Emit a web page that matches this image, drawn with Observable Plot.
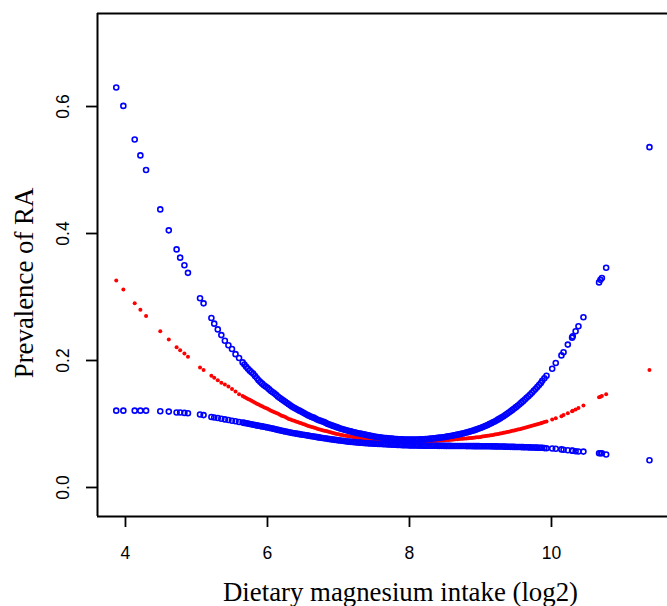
<!DOCTYPE html>
<html>
<head>
<meta charset="utf-8">
<script src="https://cdn.jsdelivr.net/npm/d3@7"></script>
<script src="https://cdn.jsdelivr.net/npm/@observablehq/plot@0.6"></script>
<style>
  html, body { margin: 0; padding: 0; background: #fff; overflow: hidden; }
</style>
</head>
<body>
<div id="chart"></div>
<script>
// Dietary magnesium intake (log2)
const xValues = [
  3.87, 3.97, 4.13, 4.21, 4.29, 4.49, 4.61, 4.72, 4.77, 4.83, 4.88, 5.05, 5.10,
  5.21, 5.25, 5.30, 5.35, 5.40, 5.45, 5.50, 5.55, 5.60, 5.65,
  5.70, 5.75, 5.80, 5.85, 5.90, 5.95, 6.00, 6.05, 6.10, 6.15,
  6.20, 6.25, 6.30, 6.35, 6.40, 6.45, 6.50, 6.55, 6.60, 6.65,
  6.70, 6.75, 6.80, 6.85, 6.90, 6.95, 7.00, 7.05, 7.10, 7.15,
  7.20, 7.25, 7.30, 7.35, 7.40, 7.45, 7.50, 7.55, 7.60, 7.65,
  7.70, 7.75, 7.80, 7.85, 7.90, 7.95, 8.00, 8.05, 8.10, 8.15,
  8.20, 8.25, 8.30, 8.35, 8.40, 8.45, 8.50, 8.55, 8.60, 8.65,
  8.70, 8.75, 8.80, 8.85, 8.90, 8.95, 9.00, 9.05, 9.10, 9.15,
  9.20, 9.25, 9.30, 9.35, 9.40, 9.45, 9.50, 9.55, 9.60, 9.65,
  9.70, 9.75, 9.80, 9.85,
  9.87, 9.90, 9.93, 10.01, 10.06, 10.14, 10.17, 10.23, 10.29, 10.30, 10.34, 10.38, 10.45,
  10.67, 10.69, 10.71, 10.77, 11.38
];
// Upper 95% CI
const upperCI = [
  0.630, 0.601, 0.548, 0.523, 0.500, 0.438, 0.405, 0.375, 0.362, 0.350, 0.338, 0.298, 0.290,
  0.267, 0.258, 0.249, 0.240, 0.231, 0.224, 0.218, 0.210, 0.204, 0.197,
  0.190, 0.184, 0.179, 0.172, 0.166, 0.161, 0.157, 0.152, 0.148, 0.143,
  0.139, 0.135, 0.131, 0.127, 0.124, 0.121, 0.118, 0.115, 0.112, 0.110,
  0.107, 0.105, 0.103, 0.100, 0.098, 0.096, 0.094, 0.092, 0.0905, 0.089,
  0.0875, 0.086, 0.085, 0.0838, 0.0826, 0.0815, 0.0804, 0.0795, 0.0787, 0.078,
  0.0774, 0.0769, 0.0764, 0.076, 0.0757, 0.0755, 0.0754, 0.0754, 0.0755, 0.0757,
  0.076, 0.0764, 0.0769, 0.0775, 0.0781, 0.0788, 0.0796, 0.0805, 0.0815, 0.0826,
  0.0838, 0.085, 0.0865, 0.088, 0.0898, 0.0917, 0.0938, 0.0961, 0.0985, 0.1012,
  0.104, 0.1072, 0.1105, 0.1142, 0.118, 0.1222, 0.1265, 0.1312, 0.136, 0.1412,
  0.1465, 0.1522, 0.1582, 0.1645,
  0.168, 0.172, 0.176, 0.187, 0.196, 0.208, 0.213, 0.225, 0.236, 0.238, 0.246, 0.254, 0.268,
  0.323, 0.327, 0.330, 0.346, 0.536
];
// Fitted prevalence
const fitted = [
  0.326, 0.312, 0.290, 0.280, 0.270, 0.246, 0.233, 0.221, 0.216, 0.211, 0.206, 0.189, 0.185,
  0.176, 0.173, 0.169, 0.165, 0.162, 0.159, 0.155, 0.151, 0.147, 0.144,
  0.141, 0.138, 0.135, 0.132, 0.129, 0.1265, 0.124, 0.121, 0.1185, 0.116,
  0.113, 0.111, 0.108, 0.106, 0.104, 0.102, 0.100, 0.098, 0.096, 0.0945,
  0.0925, 0.091, 0.0895, 0.088, 0.0865, 0.085, 0.0838, 0.0826, 0.0815, 0.0805,
  0.0796, 0.0788, 0.078, 0.0774, 0.0768, 0.0762, 0.0757, 0.0752, 0.0748, 0.0744,
  0.074, 0.0736, 0.0733, 0.073, 0.0727, 0.0725, 0.0723, 0.0722, 0.0722, 0.0722,
  0.0723, 0.0725, 0.0728, 0.0731, 0.0735, 0.0739, 0.0743, 0.0748, 0.0753, 0.0758,
  0.0763, 0.0768, 0.0773, 0.0778, 0.0783, 0.079, 0.0797, 0.0805, 0.0814, 0.0823,
  0.0833, 0.0844, 0.0855, 0.0867, 0.0879, 0.0892, 0.0905, 0.0919, 0.0933, 0.0948,
  0.0963, 0.0979, 0.0996, 0.1013,
  0.102, 0.103, 0.104, 0.107, 0.109, 0.112, 0.114, 0.117, 0.120, 0.121, 0.123, 0.125, 0.129,
  0.142, 0.143, 0.144, 0.147, 0.185
];
// Lower 95% CI
const lowerCI = [
  0.121, 0.121, 0.121, 0.121, 0.121, 0.120, 0.1195, 0.118, 0.118, 0.1175, 0.117, 0.115, 0.114,
  0.111, 0.1103, 0.1095, 0.1083, 0.1072, 0.1062, 0.1052, 0.1042, 0.1032, 0.1022,
  0.1011, 0.100, 0.0989, 0.0978, 0.0967, 0.0956, 0.0945, 0.0933, 0.092, 0.0907,
  0.0894, 0.0882, 0.087, 0.0859, 0.0849, 0.084, 0.083, 0.0821, 0.0812, 0.0803,
  0.0793, 0.0784, 0.0775, 0.0766, 0.0758, 0.075, 0.0742, 0.0735, 0.0728, 0.0722,
  0.0716, 0.0711, 0.0706, 0.0701, 0.0697, 0.0693, 0.069, 0.0687, 0.0684, 0.0681,
  0.0678, 0.0675, 0.0672, 0.0669, 0.0667, 0.0665, 0.0663, 0.0662, 0.0661, 0.066,
  0.0659, 0.0658, 0.0658, 0.0657, 0.0656, 0.0656, 0.0655, 0.0655, 0.0654, 0.0654,
  0.0653, 0.0653, 0.0652, 0.0652, 0.0651, 0.0651, 0.065, 0.065, 0.0649, 0.0648,
  0.0647, 0.0646, 0.0645, 0.0643, 0.0641, 0.064, 0.0638, 0.0637, 0.0635, 0.0633,
  0.0631, 0.0629, 0.0627, 0.0625,
  0.0625, 0.062, 0.0617, 0.0614, 0.061, 0.060, 0.0594, 0.0587, 0.058, 0.0578, 0.057, 0.0567, 0.0565,
  0.054, 0.054, 0.054, 0.052, 0.043
];

// Further observations in the densely sampled middle range
const xDense = [
  5.675, 5.725, 5.775, 5.825, 5.875, 5.925, 5.975,
  6.025, 6.075, 6.125, 6.175, 6.225, 6.275, 6.325, 6.375, 6.425, 6.475,
  6.525, 6.575, 6.625, 6.675, 6.725, 6.775, 6.825, 6.875, 6.925, 6.975,
  7.025, 7.075, 7.125, 7.175, 7.225, 7.275, 7.325, 7.375, 7.425, 7.475,
  7.525, 7.575, 7.625, 7.675, 7.725, 7.775, 7.825, 7.875, 7.925, 7.975,
  8.025, 8.075, 8.125, 8.175, 8.225, 8.275, 8.325, 8.375, 8.425, 8.475,
  8.525, 8.575, 8.625, 8.675, 8.725, 8.775, 8.825, 8.875, 8.925, 8.975,
  9.025, 9.075, 9.125, 9.175, 9.225, 9.275, 9.325, 9.375, 9.425, 9.475,
  9.525, 9.575, 9.625, 9.675, 9.725, 9.775, 9.825
];
const upperDense = [
  0.1935, 0.187, 0.1815, 0.1755, 0.169, 0.1635, 0.159,
  0.1545, 0.150, 0.1455, 0.141, 0.137, 0.133, 0.129, 0.1255, 0.1225, 0.1195,
  0.1165, 0.1135, 0.111, 0.1085, 0.106, 0.104, 0.1015, 0.099, 0.097, 0.095,
  0.093, 0.0913, 0.0898, 0.0883, 0.0868, 0.0855, 0.0844, 0.0832, 0.082, 0.081,
  0.080, 0.0791, 0.0784, 0.0777, 0.0772, 0.0767, 0.0762, 0.0759, 0.0756, 0.0755,
  0.0754, 0.0755, 0.0756, 0.0759, 0.0762, 0.0767, 0.0772, 0.0778, 0.0785, 0.0792,
  0.0801, 0.081, 0.0821, 0.0832, 0.0844, 0.0858, 0.0872, 0.0889, 0.0907, 0.0927,
  0.0949, 0.0973, 0.0998, 0.1026, 0.1056, 0.1088, 0.1123, 0.1161, 0.1201, 0.1243,
  0.1288, 0.1336, 0.1386, 0.1438, 0.1493, 0.1552, 0.1613
];
const fittedDense = [
  0.1425, 0.1395, 0.1365, 0.1335, 0.1305, 0.1278, 0.1253,
  0.1225, 0.1198, 0.1173, 0.1145, 0.112, 0.1095, 0.107, 0.105, 0.103, 0.101,
  0.099, 0.097, 0.0953, 0.0935, 0.0918, 0.0903, 0.0888, 0.0873, 0.0858, 0.0844,
  0.0832, 0.082, 0.081, 0.0801, 0.0792, 0.0784, 0.0777, 0.0771, 0.0765, 0.076,
  0.0755, 0.075, 0.0746, 0.0742, 0.0738, 0.0735, 0.0732, 0.0729, 0.0726, 0.0724,
  0.0723, 0.0722, 0.0722, 0.0723, 0.0724, 0.0727, 0.073, 0.0733, 0.0737, 0.0741,
  0.0746, 0.0751, 0.0756, 0.0761, 0.0766, 0.0771, 0.0776, 0.0781, 0.0786, 0.0793,
  0.0801, 0.0809, 0.0818, 0.0828, 0.0838, 0.0849, 0.0861, 0.0873, 0.0885, 0.0898,
  0.0912, 0.0926, 0.094, 0.0955, 0.0971, 0.0987, 0.1004
];
const lowerDense = [
  0.1017, 0.1006, 0.0995, 0.0984, 0.0973, 0.0962, 0.0951,
  0.0939, 0.0927, 0.0914, 0.0901, 0.0888, 0.0876, 0.0865, 0.0854, 0.0845, 0.0835,
  0.0826, 0.0817, 0.0808, 0.0798, 0.0789, 0.078, 0.0771, 0.0762, 0.0754, 0.0746,
  0.0739, 0.0732, 0.0725, 0.0719, 0.0714, 0.0709, 0.0704, 0.0699, 0.0695, 0.0692,
  0.0689, 0.0686, 0.0683, 0.068, 0.0677, 0.0674, 0.0671, 0.0668, 0.0666, 0.0664,
  0.0663, 0.0662, 0.066, 0.066, 0.0659, 0.0658, 0.0658, 0.0657, 0.0656, 0.0656,
  0.0655, 0.0655, 0.0654, 0.0654, 0.0653, 0.0653, 0.0652, 0.0652, 0.0651, 0.0651,
  0.065, 0.065, 0.0649, 0.0648, 0.0647, 0.0646, 0.0644, 0.0642, 0.064, 0.0639,
  0.0638, 0.0636, 0.0634, 0.0632, 0.063, 0.0628, 0.0626
];

const xTicks = [4, 6, 8, 10];
const yTicks = [0.0, 0.2, 0.4, 0.6];
const xDomain = [3.606, 11.634];
const yDomain = [-0.0457, 0.7465];
const xTitle = "Dietary magnesium intake (log2)";
const yTitle = "Prevalence of RA";

const data = xValues.map((x, i) => ({x, upper: upperCI[i], fit: fitted[i], lower: lowerCI[i]}))
  .concat(xDense.map((x, i) => ({x, upper: upperDense[i], fit: fittedDense[i], lower: lowerDense[i]})));

const serif = "'Liberation Serif', 'Times New Roman', serif";

const chart = Plot.plot({
  width: 667,
  height: 606,
  marginTop: 13,
  marginLeft: 97,
  marginRight: 0,
  marginBottom: 90,
  style: {fontFamily: "'Liberation Sans', Arial, sans-serif", fontSize: "17.5px", background: "#fff", color: "#000"},
  x: {domain: xDomain},
  y: {domain: yDomain},
  marks: [
    Plot.axisX({ticks: xTicks, tickSize: 11, tickPadding: 19, strokeWidth: 1.8, label: null, tickFormat: d => String(d)}),
    Plot.axisY({ticks: yTicks, tickSize: 11, tickPadding: 18, strokeWidth: 1.8, tickRotate: -90, label: null, tickFormat: d3.format(".1f")}),
    Plot.ruleY([yDomain[1]], {stroke: "#000", strokeWidth: 2}),
    Plot.ruleY([yDomain[0]], {stroke: "#000", strokeWidth: 2}),
    Plot.ruleX([xDomain[0]], {stroke: "#000", strokeWidth: 2}),
    Plot.dot(data, {x: "x", y: "fit", r: 2.0, fill: "#ff0000", stroke: "none"}),
    Plot.dot(data, {x: "x", y: "upper", r: 2.5, stroke: "#0000ff", strokeWidth: 1.6, fill: "none"}),
    Plot.dot(data, {x: "x", y: "lower", r: 2.5, stroke: "#0000ff", strokeWidth: 1.6, fill: "none"}),
    Plot.text([xTitle], {text: d => d, frameAnchor: "bottom", dx: 18, dy: 84, fontFamily: serif, fontSize: 26.8, fill: "#000"}),
    Plot.text([yTitle], {text: d => d, frameAnchor: "left", dx: -73, dy: 18, rotate: -90, textAnchor: "middle", fontFamily: serif, fontSize: 26.8, fill: "#000"})
  ]
});
document.getElementById("chart").appendChild(chart);
</script>
</body>
</html>
